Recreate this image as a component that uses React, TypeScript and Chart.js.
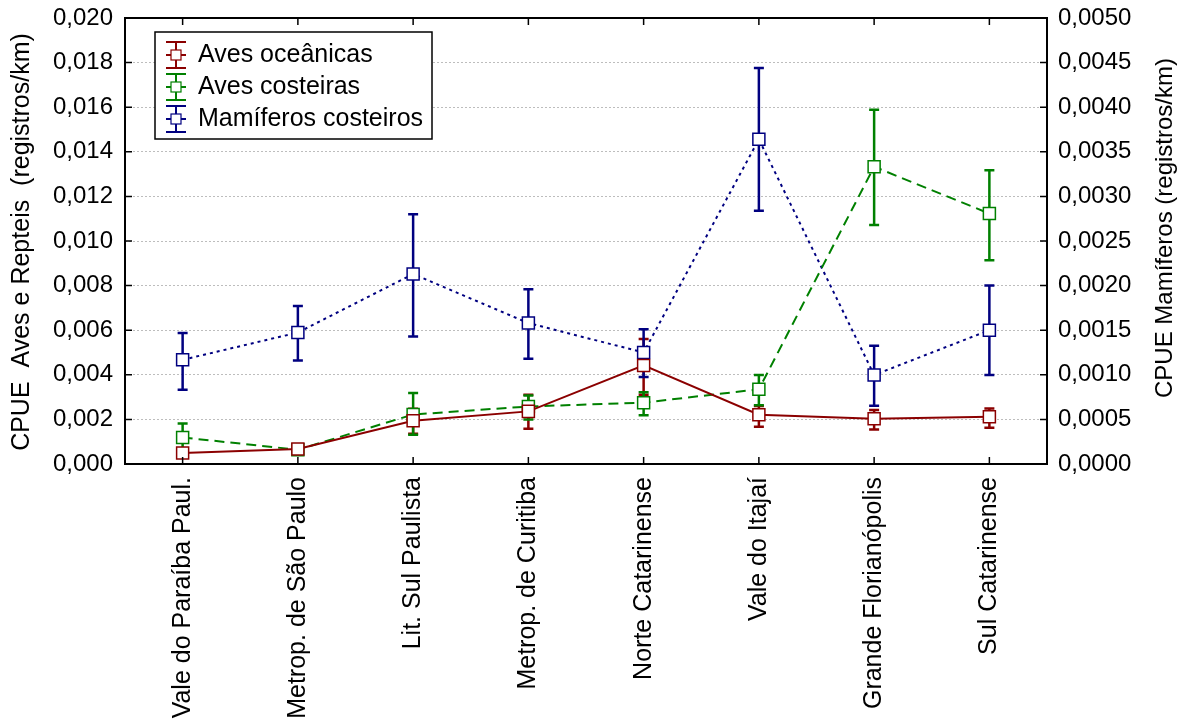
import React, { useEffect, useRef } from 'react';
import { Chart, registerables } from 'chart.js';

Chart.register(...registerables);

const FONT = '"Liberation Sans", Arial, Helvetica, sans-serif';

const categories = [
  'Vale do Paraíba Paul.',
  'Metrop. de São Paulo',
  'Lit. Sul Paulista',
  'Metrop. de Curitiba',
  'Norte Catarinense',
  'Vale do Itajaí',
  'Grande Florianópolis',
  'Sul Catarinense',
];

const avesOceanicas = [0.00049, 0.00067, 0.00194, 0.00236, 0.00442, 0.00221, 0.00203, 0.00212];
const avesOceanicasLow = [0.0003, 0.00055, 0.00136, 0.00158, 0.0031, 0.00167, 0.00155, 0.00162];
const avesOceanicasHigh = [0.0007, 0.0008, 0.00248, 0.0031, 0.00561, 0.0026, 0.00242, 0.00249];

const avesCosteiras = [0.00119, 0.00064, 0.00222, 0.00258, 0.00275, 0.00335, 0.01333, 0.01123];
const avesCosteirasLow = [0.00057, 0.0005, 0.00131, 0.00199, 0.00219, 0.00264, 0.01072, 0.00914];
const avesCosteirasHigh = [0.00182, 0.0008, 0.00318, 0.00307, 0.00322, 0.00399, 0.01589, 0.01317];

const mamiferos = [0.001168, 0.001474, 0.00213, 0.00158, 0.00125, 0.00364, 0.000998, 0.0015];
const mamiferosLow = [0.000832, 0.00116, 0.00143, 0.00118, 0.000974, 0.00284, 0.000653, 0.000998];
const mamiferosHigh = [0.00147, 0.00177, 0.0028, 0.00196, 0.00151, 0.00444, 0.001325, 0.002];

const seriesLabels = ['Aves oceânicas', 'Aves costeiras', 'Mamíferos costeiros'];
const leftTitle = 'CPUE  Aves e Repteis  (registros/km)';
const rightTitle = 'CPUE Mamíferos (registros/km)';

const RED = '#8b0000';
const GREEN = '#008000';
const BLUE = '#000080';

const fmt3 = (v: number) => Number(v).toFixed(3).replace('.', ',');
const fmt4 = (v: number) => Number(v).toFixed(4).replace('.', ',');

export default function App() {
  const ref = useRef<HTMLCanvasElement>(null);

  useEffect(() => {
    document.body.style.margin = '0';
    const canvas = ref.current!;

    const series = [
      { label: seriesLabels[0], data: avesOceanicas, low: avesOceanicasLow, high: avesOceanicasHigh, color: RED, axis: 'y', dash: [] as number[] },
      { label: seriesLabels[1], data: avesCosteiras, low: avesCosteirasLow, high: avesCosteirasHigh, color: GREEN, axis: 'y', dash: [10, 6] },
      { label: seriesLabels[2], data: mamiferos, low: mamiferosLow, high: mamiferosHigh, color: BLUE, axis: 'y2', dash: [3, 4] },
    ];

    const custom = {
      id: 'custom',
      beforeDatasetsDraw(chart: any) {
        const ctx = chart.ctx;
        const xs = chart.scales.x;
        ctx.save();
        series.forEach((s) => {
          const ys = chart.scales[s.axis];
          ctx.strokeStyle = s.color;
          ctx.lineWidth = 2.5;
          ctx.setLineDash([]);
          s.data.forEach((_, i) => {
            const x = xs.getPixelForValue(i);
            const y1 = ys.getPixelForValue(s.low[i]);
            const y2 = ys.getPixelForValue(s.high[i]);
            ctx.beginPath();
            ctx.moveTo(x, y1);
            ctx.lineTo(x, y2);
            ctx.moveTo(x - 5, y1);
            ctx.lineTo(x + 5, y1);
            ctx.moveTo(x - 5, y2);
            ctx.lineTo(x + 5, y2);
            ctx.stroke();
          });
        });
        ctx.restore();
      },
      afterDraw(chart: any) {
        const ctx = chart.ctx;
        const a = chart.chartArea;
        ctx.save();
        ctx.setLineDash([]);
        ctx.strokeStyle = '#000';
        ctx.lineWidth = 2;
        ctx.strokeRect(a.left, a.top, a.right - a.left, a.bottom - a.top);
        const TL = 7;
        ctx.lineWidth = 1.5;
        ctx.beginPath();
        const yl = chart.scales.y;
        yl.ticks.forEach((_: any, i: number) => {
          const y = yl.getPixelForTick(i);
          ctx.moveTo(a.left, y);
          ctx.lineTo(a.left + TL, y);
        });
        const yr = chart.scales.y2;
        yr.ticks.forEach((_: any, i: number) => {
          const y = yr.getPixelForTick(i);
          ctx.moveTo(a.right, y);
          ctx.lineTo(a.right - TL, y);
        });
        const xs = chart.scales.x;
        categories.forEach((_, i) => {
          const x = xs.getPixelForValue(i);
          ctx.moveTo(x, a.bottom);
          ctx.lineTo(x, a.bottom - TL);
          ctx.moveTo(x, a.top);
          ctx.lineTo(x, a.top + TL);
        });
        ctx.stroke();

        // axis titles
        ctx.fillStyle = '#000';
        ctx.textAlign = 'center';
        ctx.textBaseline = 'middle';
        ctx.save();
        ctx.font = `25px ${FONT}`;
        ctx.translate(22, 242);
        ctx.rotate(-Math.PI / 2);
        ctx.fillText(leftTitle, 0, 0);
        ctx.restore();
        ctx.save();
        ctx.font = `24px ${FONT}`;
        ctx.translate(1165, 228);
        ctx.rotate(-Math.PI / 2);
        ctx.fillText(rightTitle, 0, 0);
        ctx.restore();

        // legend
        const bx = 155, by = 32, bw = 277, bh = 107;
        ctx.fillStyle = '#fff';
        ctx.fillRect(bx, by, bw, bh);
        ctx.strokeStyle = '#000';
        ctx.lineWidth = 1.5;
        ctx.strokeRect(bx, by, bw, bh);
        const rowY = [55, 87, 119];
        series.forEach((s, k) => {
          const cy = rowY[k];
          const cx = 176;
          ctx.strokeStyle = s.color;
          ctx.lineWidth = 2;
          ctx.beginPath();
          ctx.moveTo(cx, cy - 13);
          ctx.lineTo(cx, cy + 13);
          ctx.moveTo(cx - 10, cy - 13);
          ctx.lineTo(cx + 10, cy - 13);
          ctx.moveTo(cx - 10, cy + 13);
          ctx.lineTo(cx + 10, cy + 13);
          ctx.moveTo(cx - 10, cy);
          ctx.lineTo(cx + 10, cy);
          ctx.stroke();
          ctx.fillStyle = '#fff';
          ctx.fillRect(cx - 5, cy - 5, 10, 10);
          ctx.lineWidth = 1.2;
          ctx.strokeRect(cx - 5, cy - 5, 10, 10);
          ctx.fillStyle = '#000';
          ctx.font = `25px ${FONT}`;
          ctx.textAlign = 'left';
          ctx.textBaseline = 'middle';
          ctx.fillText(s.label, 198, cy);
        });
        ctx.restore();
      },
    };

    const chart = new Chart(canvas, {
      type: 'line',
      data: {
        labels: categories,
        datasets: series.map((s) => ({
          label: s.label,
          data: s.data,
          yAxisID: s.axis,
          borderColor: s.color,
          borderWidth: 2,
          borderDash: s.dash,
          backgroundColor: '#fff',
          pointStyle: 'rect',
          pointRadius: 8.5,
          pointBorderWidth: 1.5,
          pointBackgroundColor: '#fff',
          pointBorderColor: s.color,
          tension: 0,
          fill: false,
        })),
      },
      options: {
        responsive: false,
        animation: false,
        events: [],
        layout: { padding: { top: 18, left: 0, right: 0, bottom: 0 } },
        plugins: { legend: { display: false }, tooltip: { enabled: false } },
        scales: {
          x: {
            type: 'category',
            offset: true,
            grid: { display: false },
            border: { display: false },
            ticks: {
              autoSkip: false,
              maxRotation: 90,
              minRotation: 90,
              padding: 5,
              color: '#000',
              font: { size: 25, family: FONT },
            },
            afterFit: (s: any) => { s.height = 261; s.paddingLeft = 0; s.paddingRight = 0; },
          },
          y: {
            position: 'left',
            min: 0,
            max: 0.02,
            grid: { color: '#bdbdbd', lineWidth: 1, drawTicks: false },
            border: { display: false, dash: [2, 2] },
            ticks: {
              stepSize: 0.002,
              padding: 12,
              color: '#000',
              font: { size: 24, family: FONT },
              callback: (v: any) => fmt3(v),
            },
            afterFit: (s: any) => { s.width = 125; s.paddingTop = 0; s.paddingBottom = 0; },
          },
          y2: {
            position: 'right',
            min: 0,
            max: 0.005,
            grid: { display: false, drawTicks: false },
            border: { display: false },
            ticks: {
              stepSize: 0.0005,
              padding: 11,
              color: '#000',
              font: { size: 24, family: FONT },
              callback: (v: any) => fmt4(v),
            },
            afterFit: (s: any) => { s.width = 138; s.paddingTop = 0; s.paddingBottom = 0; },
          },
        },
      },
      plugins: [custom],
    } as any);

    return () => chart.destroy();
  }, []);

  return <canvas ref={ref} width={1185} height={725} style={{ display: 'block' }} />;
}
